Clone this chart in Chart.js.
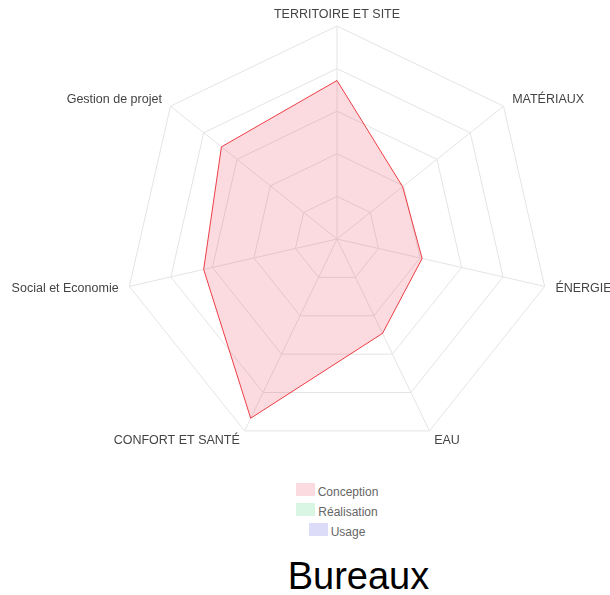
<!DOCTYPE html>
<html lang="fr">
<head>
<meta charset="utf-8">
<title>Bureaux</title>
<script src="https://cdn.jsdelivr.net/npm/chart.js@4.4.1/dist/chart.umd.min.js"></script>
<style>
  html, body { margin: 0; padding: 0; background: #fff; overflow: hidden; width: 610px; height: 595px; }
  #wrap { position: relative; width: 610px; height: 595px; overflow: hidden; }
  #radar { position: absolute; left: 0; top: 0; }
  #legend { position: absolute; left: 0; top: 483px; width: 674px; font: 12px "Liberation Sans", Arial, sans-serif; color: #666; }
  #legend .item { display: flex; justify-content: center; align-items: flex-start; height: 20px; }
  #legend .box { width: 19px; height: 13px; margin-right: 3px; }
  #legend .txt { line-height: 13px; padding-top: 3px; }
  #title { position: absolute; left: 0; top: 552px; width: 717px; text-align: center; font: 38px "Liberation Sans", Arial, sans-serif; color: #000; line-height: 48px; }
</style>
</head>
<body>
<div id="wrap">
  <canvas id="radar" width="610" height="470"></canvas>
  <div id="legend"></div>
  <div id="title">Bureaux</div>
</div>
<script>
// Axes of the assessment
const labels = [
  'TERRITOIRE ET SITE',
  'MATÉRIAUX',
  'ÉNERGIE',
  'EAU',
  'CONFORT ET SANTÉ',
  'Social et Economie',
  'Gestion de projet'
];

// Scores per phase (0 to 5)
const conception = [3.72, 1.97, 2.05, 2.46, 4.67, 3.21, 3.47];
const realisation = [];
const usage = [];

const seriesNames = ['Conception', 'Réalisation', 'Usage'];

// Axis labels centred on a point just outside the outer ring,
// aligned away from the centre depending on the spoke angle.
const axisLabels = {
  id: 'axisLabels',
  afterDraw(chart) {
    const scale = chart.scales.r;
    const ctx = chart.ctx;
    ctx.save();
    ctx.font = '12.5px "Liberation Sans", Arial, sans-serif';
    ctx.fillStyle = '#444';
    ctx.textBaseline = 'middle';
    chart.data.labels.forEach(function (text, i) {
      const pos = scale.getPointPosition(i, scale.drawingArea + 11);
      const deg = Math.round(scale.getIndexAngle(i) * 180 / Math.PI) % 360;
      ctx.textAlign = (deg === 0 || deg === 180) ? 'center' : (deg < 180 ? 'left' : 'right');
      ctx.fillText(text, pos.x, pos.y);
    });
    ctx.restore();
  }
};

const chart = new Chart(document.getElementById('radar'), {
  type: 'radar',
  data: {
    labels: labels,
    datasets: [
      {
        label: seriesNames[0],
        data: conception,
        backgroundColor: 'rgba(235, 54, 80, 0.18)',
        borderColor: 'rgba(235, 30, 40, 0.85)',
        borderWidth: 1,
        pointRadius: 0
      },
      {
        label: seriesNames[1],
        data: realisation,
        backgroundColor: 'rgba(46, 204, 113, 0.18)',
        borderColor: 'rgba(46, 204, 113, 0.18)',
        borderWidth: 1,
        pointRadius: 0
      },
      {
        label: seriesNames[2],
        data: usage,
        backgroundColor: 'rgba(80, 80, 220, 0.2)',
        borderColor: 'rgba(80, 80, 220, 0.2)',
        borderWidth: 1,
        pointRadius: 0
      }
    ]
  },
  options: {
    responsive: false,
    animation: false,
    devicePixelRatio: 1,
    layout: { padding: { left: 124, right: 60, top: 26, bottom: 18 } },
    plugins: {
      legend: { display: false },
      title: { display: false },
      tooltip: { enabled: false }
    },
    scales: {
      r: {
        min: 0,
        max: 5,
        ticks: { display: false, stepSize: 1 },
        grid: { color: '#e4e4e4', lineWidth: 1 },
        angleLines: { color: '#e4e4e4', lineWidth: 1 },
        pointLabels: { display: false }
      }
    }
  },
  plugins: [axisLabels]
});

// Legend rendered below the chart, one series per line
const legendEl = document.getElementById('legend');
Chart.defaults.plugins.legend.labels.generateLabels(chart).forEach(function (item) {
  const row = document.createElement('div');
  row.className = 'item';
  const box = document.createElement('span');
  box.className = 'box';
  box.style.background = item.fillStyle;
  const txt = document.createElement('span');
  txt.className = 'txt';
  txt.textContent = item.text;
  row.appendChild(box);
  row.appendChild(txt);
  legendEl.appendChild(row);
});
</script>
</body>
</html>
